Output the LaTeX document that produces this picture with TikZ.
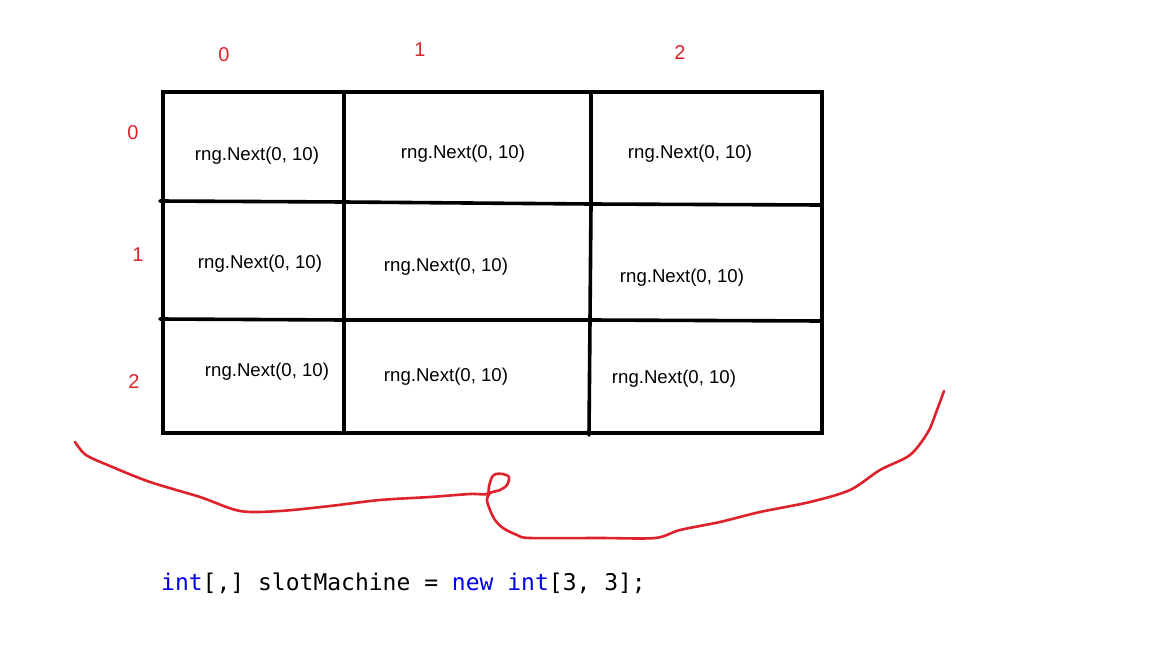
\documentclass[tikz,border=0pt]{standalone}
\usepackage{fontspec}
\setmainfont{Liberation Sans}
\newfontfamily\codefont{DejaVu Sans Mono}
\definecolor{idxred}{RGB}{222,34,44}
\definecolor{kwblue}{RGB}{0,0,230}
\begin{document}
\begin{tikzpicture}[x=1pt,y=-1pt,
  cell/.style={font=\fontsize{18.6}{21}\selectfont, inner sep=0pt, anchor=center, yshift=-2pt},
  idx/.style={font=\fontsize{20}{22}\selectfont, text=idxred, inner sep=0pt, anchor=center, yshift=-2pt},
  gridline/.style={line width=3.6pt, black, line cap=round},
  brace/.style={line width=2.6pt, idxred, line cap=round, line join=round}]
\useasboundingbox (0,0) rectangle (1152,648);
\fill[white] (0,0) rectangle (1152,648);
% column / row indices
\node[idx] (col0) at (224,53) {0};
\node[idx] (col1) at (420,48) {1};
\node[idx] (col2) at (680,51) {2};
\node[idx] (row0) at (133,131) {0};
\node[idx] (row1) at (138,253) {1};
\node[idx] (row2) at (134,380) {2};
% grid
\draw[gridline] (163,92) -- (822,92) -- (822,433) -- (163,433) -- cycle;
\draw[gridline] (344,92) -- (344,433);
\draw[gridline] (591,92) -- (591,205) -- (590,320) -- (589,435);
\draw[gridline] (160,201) -- (344,202) -- (591,204) -- (822,205);
\draw[gridline] (160,319) -- (344,320) -- (591,320) -- (822,321);
% cell contents
\node[cell] (c00) at (257,154) {rng.Next(0, 10)};
\node[cell] (c01) at (463,152) {rng.Next(0, 10)};
\node[cell] (c02) at (690,152) {rng.Next(0, 10)};
\node[cell] (c10) at (260,262) {rng.Next(0, 10)};
\node[cell] (c11) at (446,265) {rng.Next(0, 10)};
\node[cell] (c12) at (682,276) {rng.Next(0, 10)};
\node[cell] (c20) at (267,370) {rng.Next(0, 10)};
\node[cell] (c21) at (446,375) {rng.Next(0, 10)};
\node[cell] (c22) at (674,377) {rng.Next(0, 10)};
% hand-drawn brace
\draw[brace] plot[smooth, tension=0.5] coordinates {
  (75,442) (86,455) (110,466) (150,482) (200,497) (240,511) (280,511)
  (330,506) (380,500) (430,497) (470,494) (487,494)
  (489,486) (492,477) (496,474) (503,474) (509,477) (507,485) (500,490) (490,493)
  (487,500) (490,510) (495,520) (503,528) (517,535) (530,538) (600,538) (655,538)
  (680,530) (720,522) (760,512) (810,502) (850,490) (880,470)
  (910,455) (928,432) (937,410) (944,391)};
% code line
\node[font=\codefont\fontsize{23}{26}\selectfont, anchor=west, inner sep=0pt] (code) at (161,583)
  {\textcolor{kwblue}{int}[,] slotMachine = \textcolor{kwblue}{new} \textcolor{kwblue}{int}[3, 3];};
\end{tikzpicture}
\end{document}
